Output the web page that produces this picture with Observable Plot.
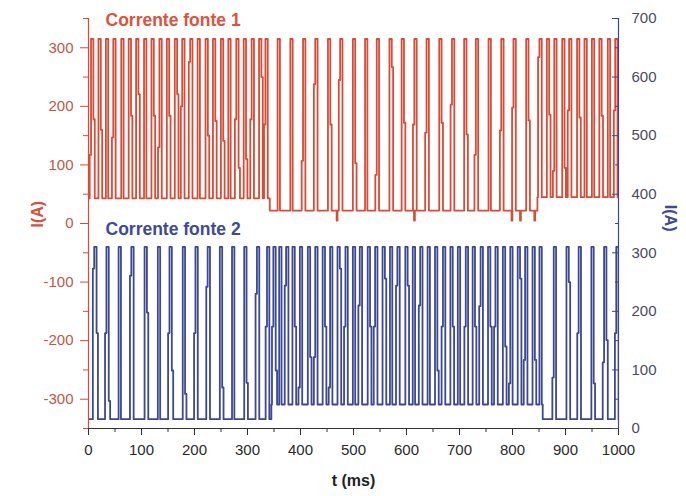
<!DOCTYPE html>
<html><head><meta charset="utf-8">
<script src="https://cdn.jsdelivr.net/npm/d3@7"></script>
<script src="https://cdn.jsdelivr.net/npm/@observablehq/plot@0.6"></script>
<style>
body{margin:0;background:#fff}
#chart svg{font-family:"Liberation Sans",Arial,sans-serif;}
</style>
</head><body><div id="chart"></div>
<script>
// ---------- labels & ticks ----------
const series1Name = "Corrente fonte 1";
const series2Name = "Corrente fonte 2";
const xLabel = "t (ms)";
const yLabelLeft = "I(A)";
const yLabelRight = "I(A)";
const xTicks = [0,100,200,300,400,500,600,700,800,900,1000];
const xMinorTicks = [50,150,250,350,450,550,650,750,850,950];
const leftTicks = [-300,-200,-100,0,100,200,300];
const leftMinorTicks = [-350,-250,-150,-50,50,150,250,350];
const rightTicks = [0,100,200,300,400,500,600,700];
const rightMinorTicks = [50,150,250,350,450,550,650];
const xDomain = [0,1000];
const leftDomain = [-350,350];
const rightDomain = [0,700];

// ---------- Corrente fonte 1 (left axis, A) ----------
const redPeakTimes = [7,21,35,49,64,78,92,107,121,136,150,165,179,194,208,223,237,252,266,281,295,310,324,336,
  359,383,407,430,454,477,501,524,546,570,593,617,640,664,688,711,733,757,781,804,828,
  853,867,881,896,909,924,938,952,966,982,996];
const redLeadStep = [117,null,null,147,null,null,null,null,null,130,null,null,200,276,null,null,null,null,null,178,null,178,null,169,
  null,null,107,238,null,245,null,null,83,null,null,169,155,null,203,null,117,null,159,198,null,
  284,null,90,null,193,null,null,null,null,null,193];
const redTrailStep = [178,160,null,null,null,184,221,null,184,null,184,221,null,null,null,150,175,141,null,95,110,null,250,null,
  null,null,null,null,169,null,103,null,null,267,172,null,null,172,null,152,null,null,null,null,176,
  null,186,null,95,null,181,null,null,184,null,null];
const redTop = 315;
const redBaseStarts = [0,342,847];
const redBaseLevels = [43,22,45];
const redDipTimes = [469,615,799,815,842];
const redDipLevel = 5;

// ---------- Corrente fonte 2 (right axis, A) ----------
const bluePeakTimes = [13,36,59,83,108,133,155,180,204,227,250,273,296,320,339,
  351,362,375,387,401,416,430,444,458,472,487,501,514,529,543,557,571,585,600,614,628,642,656,671,685,699,714,
  727,742,756,770,784,798,812,826,840,853,
  880,904,927,951,975,998];
const blueLeadStep = [273,163,null,261,null,null,163,null,163,242,null,null,null,230,174,
  174,null,244,null,70,null,122,null,70,null,174,null,210,null,174,null,null,244,null,null,210,null,null,174,null,null,174,
  null,209,null,174,null,77,null,117,null,null,
  87,null,163,null,113,163];
const blueTrailStep = [163,47,null,null,198,null,99,59,null,null,70,null,78,null,null,
  99,null,null,174,null,122,null,174,null,273,null,null,null,174,null,256,null,null,244,null,null,null,99,null,174,null,null,
  174,null,174,null,140,null,256,null,117,null,
  null,250,null,77,151,null];
const blueTop = 310;
const blueBaseStarts = [0,345,857];
const blueBaseLevels = [16,41,16];

// ---------- build step traces from the read values ----------
const HALF = 2.2, SHOULDER = 2.6;
function buildTrace(peaks, lead, trail, top, starts, levels, dips, dipLevel, shift) {
  const base = t => { let v = levels[0]; starts.forEach((s,i) => { if (t >= s) v = levels[i]; }); return v; };
  const feats = [];
  peaks.forEach((t,i) => feats.push({t: t - HALF - (lead[i]!=null ? SHOULDER : 0), kind:"pulse", c:t, lead: lead[i], trail: trail[i]}));
  starts.slice(1).forEach(s => feats.push({t: s, kind:"step"}));
  (dips||[]).forEach(t => feats.push({t, kind:"dip"}));
  feats.sort((a,b) => a.t - b.t);
  const pts = [[xDomain[0], base(0)]];
  for (const f of feats) {
    if (f.kind === "step") {
      pts.push([f.t, base(f.t - 0.01)], [f.t, base(f.t)]);
    } else if (f.kind === "dip") {
      const b = base(f.t);
      pts.push([f.t-0.8,b],[f.t-0.8,dipLevel],[f.t+0.8,dipLevel],[f.t+0.8,b]);
    } else {
      const t = f.c, b0 = base(f.t);
      if (f.lead != null) {
        pts.push([t-HALF-SHOULDER,b0],[t-HALF-SHOULDER,f.lead],[t-HALF,f.lead]);
      } else pts.push([t-HALF,b0]);
      pts.push([t-HALF,top],[t+HALF,top]);
      const endT = t + HALF + (f.trail != null ? SHOULDER : 0);
      const b1 = base(endT);
      if (f.trail != null) pts.push([t+HALF,f.trail],[endT,f.trail],[endT,b1]);
      else pts.push([t+HALF,b1]);
    }
  }
  pts.push([xDomain[1], base(xDomain[1])]);
  return pts.map(([t,v]) => ({t, v: v + shift}));
}
const shiftRight = leftDomain[0] - rightDomain[0]; // right-axis value -> left-axis value
const red = buildTrace(redPeakTimes, redLeadStep, redTrailStep, redTop, redBaseStarts, redBaseLevels, redDipTimes, redDipLevel, 0);
const blue = buildTrace(bluePeakTimes, blueLeadStep, blueTrailStep, blueTop, blueBaseStarts, blueBaseLevels, [], 0, shiftRight);

const RED = "#d84b36", BLUE = "#3c4896";
const fmtLeft = d => d < 0 ? "-" + Math.abs(d) : String(d);

const chart = Plot.plot({
  width: 686, height: 496,
  marginLeft: 88, marginRight: 68, marginTop: 18, marginBottom: 68,
  x: {domain: xDomain, label: null},
  y: {domain: leftDomain, label: null},
  style: {fontFamily: "'Liberation Sans', Arial, sans-serif", background: "#fff", overflow: "visible"},
  marks: [
    Plot.line(blue, {x: "t", y: "v", stroke: BLUE, strokeWidth: 1.8, clip: true}),
    Plot.line(red, {x: "t", y: "v", stroke: RED, strokeWidth: 1.8, clip: true}),
    // bottom axis
    Plot.ruleY([leftDomain[0]], {stroke: "#333"}),
    Plot.axisX({ticks: xTicks, tickFormat: d => String(d), tickSize: 7, tickPadding: 9, label: null, fontSize: 15, stroke: "#333", fill: "#2a2a2a"}),
    Plot.axisX({ticks: xMinorTicks, tickSize: 4, text: null, label: null, stroke: "#333"}),
    // left axis
    Plot.ruleX([xDomain[0]], {stroke: RED, strokeWidth: 1.2}),
    Plot.axisY({anchor: "left", ticks: leftTicks, tickFormat: fmtLeft, tickSize: 8, tickPadding: 7, label: null, fontSize: 15, stroke: RED, fill: "#c9553f"}),
    Plot.axisY({anchor: "left", ticks: leftMinorTicks, tickSize: 5, text: null, label: null, stroke: RED}),
    // right axis
    Plot.ruleX([xDomain[1]], {stroke: BLUE, strokeWidth: 1.2}),
    Plot.axisY({anchor: "right", ticks: rightTicks.map(v => v + shiftRight), tickFormat: d => String(d - shiftRight), tickSize: 7, dx: -7, tickPadding: 13, label: null, fontSize: 15, stroke: BLUE, fill: "#4a4a62"}),
    Plot.axisY({anchor: "right", ticks: rightMinorTicks.map(v => v + shiftRight), tickSize: 4, dx: -4, text: null, label: null, stroke: BLUE}),
    // series titles
    Plot.text([series1Name], {text: d => d, frameAnchor: "top-left", dx: 17, dy: -5, lineAnchor: "top", textAnchor: "start", fill: "#e0523a", fontWeight: "bold", fontSize: 17.5}),
    Plot.text([series2Name], {text: d => d, frameAnchor: "top-left", dx: 17, dy: 204, lineAnchor: "top", textAnchor: "start", fill: "#3d4a98", fontWeight: "bold", fontSize: 17.5}),
    // axis titles
    Plot.text([yLabelLeft], {text: d => d, frameAnchor: "left", dx: -51, dy: 4, rotate: -90, fill: "#d9503a", fontWeight: "bold", fontSize: 16}),
    Plot.text([yLabelRight], {text: d => d, frameAnchor: "right", dx: 52, dy: 8, rotate: 90, fill: "#3d4a98", fontWeight: "bold", fontSize: 16}),
    Plot.text([xLabel], {text: d => d, frameAnchor: "bottom", dy: 57, fill: "#222", fontWeight: "bold", fontSize: 16})
  ]
});
document.getElementById("chart").append(chart);
</script>
</body></html>
